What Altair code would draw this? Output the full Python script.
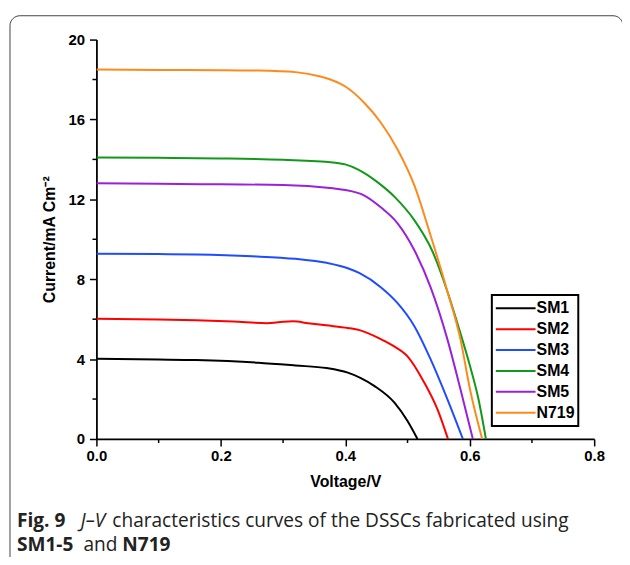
import altair as alt
import pandas as pd

series = ["SM1", "SM2", "SM3", "SM4", "SM5", "N719"]
colors = ["#000000", "#ff0000", "#1f4cff", "#12991a", "#9b20d9", "#ff8a1c"]

sm1_v = [0.0, 0.1, 0.16, 0.26, 0.32, 0.37, 0.404, 0.425, 0.447, 0.479, 0.50, 0.516]
sm1_j = [4.02, 3.98, 3.95, 3.82, 3.68, 3.55, 3.32, 3.05, 2.65, 1.82, 0.9, 0.0]

sm2_v = [0.0, 0.1, 0.16, 0.22, 0.274, 0.30, 0.316, 0.34, 0.369, 0.404, 0.423, 0.457, 0.478, 0.50, 0.527, 0.548, 0.565]
sm2_j = [6.02, 5.98, 5.94, 5.88, 5.80, 5.87, 5.89, 5.80, 5.69, 5.56, 5.45, 5.0, 4.65, 4.14, 2.82, 1.49, 0.0]

sm3_v = [0.0, 0.1, 0.16, 0.25, 0.32, 0.37, 0.404, 0.423, 0.457, 0.484, 0.511, 0.537, 0.564, 0.589]
sm3_j = [9.28, 9.26, 9.24, 9.15, 9.02, 8.82, 8.55, 8.30, 7.60, 6.80, 5.65, 4.0, 2.0, 0.0]

sm4_v = [0.0, 0.1, 0.2, 0.3, 0.38, 0.40, 0.42, 0.45, 0.48, 0.51, 0.54, 0.565, 0.585, 0.60, 0.614, 0.626]
sm4_j = [14.1, 14.08, 14.05, 13.98, 13.85, 13.75, 13.5, 12.9, 12.1, 11.0, 9.4, 7.3, 5.3, 3.7, 2.0, 0.0]

sm5_v = [0.0, 0.1, 0.2, 0.3, 0.38, 0.40, 0.43, 0.457, 0.484, 0.511, 0.537, 0.564, 0.585, 0.605]
sm5_j = [12.8, 12.78, 12.75, 12.72, 12.55, 12.47, 12.2, 11.6, 10.8, 9.45, 7.6, 5.0, 2.5, 0.0]

n719_v = [0.0, 0.1, 0.2, 0.26, 0.32, 0.36, 0.38, 0.40, 0.43, 0.457, 0.484, 0.511, 0.537, 0.564, 0.585, 0.601, 0.62]
n719_j = [18.5, 18.48, 18.47, 18.45, 18.37, 18.15, 17.95, 17.65, 16.85, 15.85, 14.5, 12.7, 10.2, 7.4, 5.0, 2.4, 0.0]

x_minor = [0.1, 0.3, 0.5, 0.7]
y_minor = [2, 6, 10, 14, 18]

curves = {
    "SM1": (sm1_v, sm1_j), "SM2": (sm2_v, sm2_j), "SM3": (sm3_v, sm3_j),
    "SM4": (sm4_v, sm4_j), "SM5": (sm5_v, sm5_j), "N719": (n719_v, n719_j),
}
rows = []
for name, (vs, js) in curves.items():
    for v, j in zip(vs, js):
        rows.append({"series": name, "V": v, "J": j})
df = pd.DataFrame(rows)

W, H = 501, 402
FONT = "Liberation Sans"
CAP = "Open Sans"

xscale = alt.Scale(domain=[0, 0.8], nice=False)
yscale = alt.Scale(domain=[0, 20], nice=False)

lines = alt.Chart(df).mark_line(strokeWidth=2, clip=True, interpolate="monotone").encode(
    x=alt.X("V:Q", scale=xscale,
            axis=alt.Axis(title="Voltage/V", values=[0, 0.2, 0.4, 0.6, 0.8], format=".1f",
                          tickSize=7, labelPadding=3, titlePadding=10, labelFlush=False)),
    y=alt.Y("J:Q", scale=yscale,
            axis=alt.Axis(title="Current/mA Cm⁻²", values=[0, 4, 8, 12, 16, 20],
                          tickSize=7, labelPadding=5, titlePadding=11)),
    color=alt.Color("series:N", sort=series,
                    scale=alt.Scale(domain=series, range=colors),
                    legend=alt.Legend(title=None, orient="none", legendX=398, legendY=257,
                                      symbolType="stroke", symbolSize=1600, symbolStrokeWidth=2,
                                      clipHeight=21, rowPadding=0, labelOffset=0,
                                      labelFont=FONT, labelFontWeight="bold", labelFontSize=16,
                                      labelColor="black", padding=3,
                                      strokeColor="black")),
)

xminor = alt.Chart(pd.DataFrame({"V": x_minor})).mark_rule(color="black", strokeWidth=1.5).encode(
    x=alt.X("V:Q", scale=xscale), y=alt.value(H), y2=alt.value(H + 4))
yminor = alt.Chart(pd.DataFrame({"J": y_minor})).mark_rule(color="black", strokeWidth=1.5).encode(
    y=alt.Y("J:Q", scale=yscale), x=alt.value(0), x2=alt.value(-4))

one = pd.DataFrame({"k": [0]})
frame = alt.Chart(one).mark_rect(fill=None, stroke="#444444", strokeWidth=1, cornerRadius=10).encode(
    x=alt.value(-87), x2=alt.value(530), y=alt.value(-24), y2=alt.value(620))

def cap(txt, px, py, size=19.2, weight="normal", style="normal"):
    return alt.Chart(one).mark_text(text=txt, font=CAP, fontSize=size, fontWeight=weight,
                                    fontStyle=style, align="left", baseline="alphabetic",
                                    color="#222222").encode(
        x=alt.value(px - 97), y=alt.value(py - 38))

caption = [
    cap("Fig. 9", 17, 529, weight="bold"),
    cap("J–V", 81, 529, style="italic"),
    cap("characteristics curves of the DSSCs fabricated using", 113, 529),
    cap("SM1-5", 17, 553, weight="bold"),
    cap("and", 84, 553),
    cap("N719", 123, 553, weight="bold"),
]

chart = alt.layer(frame, lines, xminor, yminor, *caption).properties(
    width=W, height=H,
    autosize=alt.AutoSizeParams(type="none"),
    padding={"left": 89, "top": 30, "right": 28, "bottom": 117},
).configure_view(stroke=None).configure_axis(
    grid=False, domainColor="black", tickColor="black", domainWidth=1.8, tickWidth=1.5,
    labelFont=FONT, labelFontWeight="bold", labelFontSize=15, labelColor="black",
    titleFont=FONT, titleFontWeight="bold", titleFontSize=16, titleColor="black",
).configure_legend(strokeWidth=2)

chart.save("out.html", embed_options={"renderer": "svg", "actions": False})
